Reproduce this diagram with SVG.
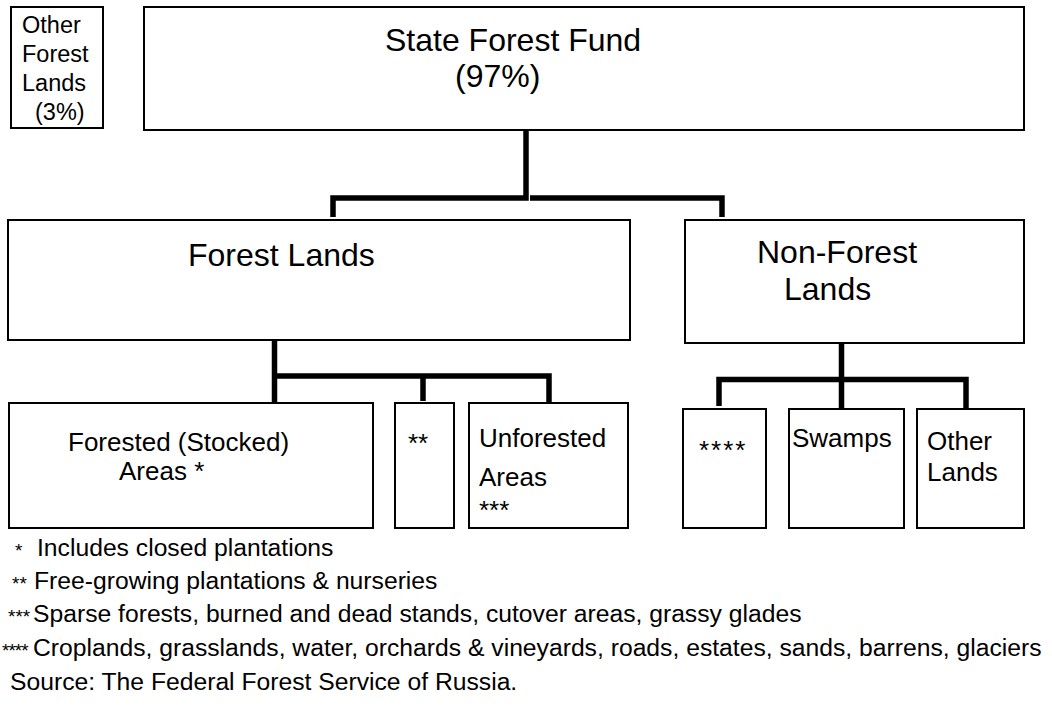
<svg xmlns="http://www.w3.org/2000/svg" width="1052" height="717" viewBox="0 0 1052 717">
<style>
.box{fill:#fff;stroke:#000;stroke-width:2}
.conn{fill:none;stroke:#000;stroke-width:5.5;stroke-linecap:butt;stroke-linejoin:miter}
text{font-family:"Liberation Sans",Arial,sans-serif;fill:#000}
.big{font-size:32px}
.mid{font-size:26px}
.sm{font-size:23.5px}
.fn{font-size:24.7px}
.ast{font-size:19px}
</style>
<rect width="1052" height="717" fill="#fff"/>
<g id="other-forest-lands">
<rect class="box" x="11" y="7" width="92" height="121"/>
<text class="sm" x="22" y="33">Other</text>
<text class="sm" x="22" y="62">Forest</text>
<text class="sm" x="22" y="91">Lands</text>
<text class="sm" x="35" y="120">(3%)</text>
</g>
<g id="state-forest-fund">
<rect class="box" x="144" y="7" width="880" height="123"/>
<text class="big" x="385" y="51">State Forest Fund</text>
<text class="big" x="455" y="87">(97%)</text>
</g>
<g id="forest-lands">
<rect class="box" x="8" y="220" width="622" height="120"/>
<text class="big" x="188" y="266">Forest Lands</text>
</g>
<g id="non-forest-lands">
<rect class="box" x="685" y="220" width="339" height="123"/>
<text class="big" x="757" y="263">Non-Forest</text>
<text class="big" x="784" y="300">Lands</text>
</g>
<g id="forested-areas">
<rect class="box" x="9" y="403" width="364" height="125"/>
<text class="mid" x="68" y="451">Forested (Stocked)</text>
<text class="mid" x="119" y="480">Areas *</text>
</g>
<g id="free-growing">
<rect class="box" x="395" y="403" width="59" height="125"/>
<text class="mid" x="408" y="452">**</text>
</g>
<g id="unforested-areas">
<rect class="box" x="469" y="403" width="159" height="125"/>
<text class="mid" x="479" y="447">Unforested</text>
<text class="mid" x="479" y="486">Areas</text>
<text class="mid" x="479" y="519">***</text>
</g>
<g id="non-forest-other">
<rect class="box" x="683" y="409" width="83" height="119"/>
<text class="mid" x="699" y="459" letter-spacing="2">****</text>
</g>
<g id="swamps">
<rect class="box" x="789" y="409" width="115" height="119"/>
<text class="mid" x="792" y="447">Swamps</text>
</g>
<g id="other-lands">
<rect class="box" x="917" y="409" width="107" height="119"/>
<text class="mid" x="927" y="450">Other</text>
<text class="mid" x="927" y="481">Lands</text>
</g>
<g id="connectors">
<path class="conn" d="M333,217 V198 H526 V130"/>
<path class="conn" d="M530,198 H722 V217"/>
<path class="conn" d="M274.5,340 V403 M274.5,376 H549 V403 M423,376 V401"/>
<path class="conn" d="M841.5,343 V409 M719,406 V379.5 H966 V409"/>
</g>
<g id="footnotes">
<text class="ast" x="15" y="557">*</text>
<text class="fn" x="37" y="556">Includes closed plantations</text>
<text class="ast" x="12" y="590">**</text>
<text class="fn" x="34" y="589">Free-growing plantations &amp; nurseries</text>
<text class="ast" x="8" y="623">***</text>
<text class="fn" x="33" y="622">Sparse forests, burned and dead stands, cutover areas, grassy glades</text>
<text class="ast" x="2" y="657" letter-spacing="-1">****</text>
<text class="fn" x="33" y="656">Croplands, grasslands, water, orchards &amp; vineyards, roads, estates, sands, barrens, glaciers</text>
<text class="fn" x="10" y="690">Source: The Federal Forest Service of Russia.</text>
</g>
</svg>
